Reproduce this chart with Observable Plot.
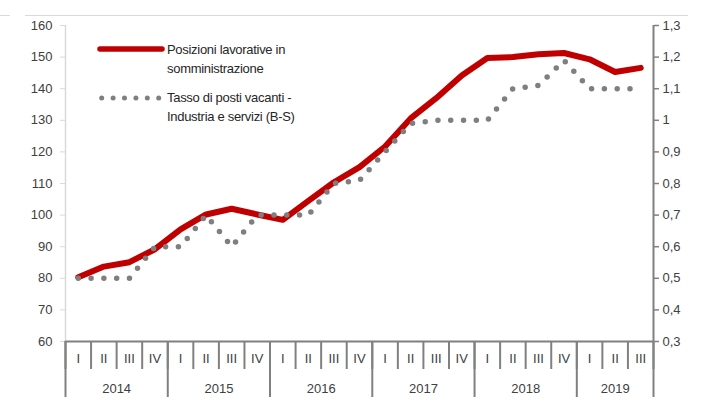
<!DOCTYPE html>
<html><head><meta charset="utf-8">
<script src="https://cdn.jsdelivr.net/npm/d3@7"></script>
<script src="https://cdn.jsdelivr.net/npm/@observablehq/plot@0.6"></script>
<style>
body{margin:0;background:#fff;font-family:"Liberation Sans",Arial,sans-serif;}
#wrap{position:relative;width:702px;height:402px;overflow:hidden;}
.frame{position:absolute;height:1px;background:#d9d9d9;top:15px;}
.legtext{position:absolute;font-size:13px;line-height:19px;color:#262626;letter-spacing:-0.3px;white-space:nowrap;}
.legsym{position:absolute;}
</style></head><body><div id="wrap"></div>
<script>
const quarterLabels = ["I","II","III","IV","I","II","III","IV","I","II","III","IV","I","II","III","IV","I","II","III","IV","I","II","III"];
const years = ["2014","2015","2016","2017","2018","2019"];
const positions = [80.3,83.7,85.1,89.2,95.5,100.2,102.0,100.2,98.5,104.5,110.4,115.2,121.7,130.6,137.0,144.2,149.7,150.0,150.9,151.3,149.3,145.3,146.6];
const vacancy = [0.5,0.5,0.5,0.6,0.6,0.7,0.6,0.7,0.7,0.7,0.8,0.81,0.9,0.99,1.0,1.0,1.0,1.1,1.11,1.19,1.1,1.1,1.1];
const leftTicks = [60,70,80,90,100,110,120,130,140,150,160];
const seriesNames = ["Posizioni lavorative in somministrazione","Tasso di posti vacanti - Industria e servizi (B-S)"];

const n = quarterLabels.length;
const toLeft = v => 60 + (v - 0.3) * 100;
const data = positions.map((p, i) => ({i: i + 0.5, p, v: toLeft(vacancy[i])}));
const quarterCenters = quarterLabels.map((q, i) => i + 0.5);
const boundaries = d3.range(0, n + 1);
const yearBounds = years.map((y, k) => k * 4).concat([n]);
const yearCenters = years.map((y, k) => (k * 4 + Math.min(k * 4 + 4, n)) / 2);
const fmtRight = d => String(Math.round((0.3 + (d - 60) / 100) * 10) / 10).replace(".", ",");

const chart = Plot.plot({
  width: 702, height: 402,
  marginLeft: 65, marginRight: 49, marginTop: 25, marginBottom: 61,
  x: {domain: [0, n], axis: null, label: null},
  y: {domain: [60, 160], axis: null, label: null},
  style: {fontFamily: "Liberation Sans, Arial, sans-serif", fontSize: "13px", background: "#fff", overflow: "visible"},
  marks: [
    Plot.ruleX([0], {y1: 60, y2: 160, stroke: "#d9d9d9", strokeWidth: 1.5}),
    Plot.axisY({ticks: leftTicks, anchor: "left", tickSize: 5, tickPadding: 8, stroke: "#d9d9d9", fill: "#404040", tickFormat: d => String(d)}),
    Plot.ruleX([n], {y1: 60, y2: 160, stroke: "#808080", strokeWidth: 2}),
    Plot.axisY({ticks: leftTicks, anchor: "right", tickSize: 5, tickPadding: 4, stroke: "#808080", strokeWidth: 1.5, fill: "#404040", tickFormat: fmtRight}),
    Plot.axisX({ticks: boundaries, anchor: "bottom", tickSize: 28, stroke: "#808080", strokeWidth: 2, tickFormat: () => ""}),
    Plot.axisX({ticks: yearBounds, anchor: "bottom", tickSize: 56, stroke: "#808080", strokeWidth: 2, tickFormat: () => ""}),
    Plot.axisX({ticks: quarterCenters, anchor: "bottom", tickSize: 0, tickPadding: 12, fill: "#404040", tickFormat: d => quarterLabels[Math.floor(d)]}),
    Plot.axisX({ticks: yearCenters, anchor: "bottom", tickSize: 0, tickPadding: 42, fill: "#404040", tickFormat: d => years[yearCenters.indexOf(d)]}),
    Plot.ruleY([60], {stroke: "#808080", strokeWidth: 2}),
    Plot.line(data, {x: "i", y: "p", stroke: "#c00000", strokeWidth: 6, strokeLinejoin: "round", strokeLinecap: "round"}),
    Plot.line(data, {x: "i", y: "v", stroke: "#7f7f7f", strokeWidth: 5.5, strokeDasharray: "0 12.8", strokeLinecap: "round", strokeLinejoin: "round"})
  ]
});
const wrap = document.getElementById("wrap");
wrap.appendChild(chart);

function add(html){ wrap.insertAdjacentHTML("beforeend", html); }
add('<div class="frame" style="left:25px;width:663px"></div>');
add('<div class="frame" style="left:0;width:10px"></div>');
// legend
add('<svg class="legsym" style="left:96px;top:44px" width="70" height="10"><line x1="4" y1="5" x2="66" y2="5" stroke="#c00000" stroke-width="5.5" stroke-linecap="round"/></svg>');
add('<svg class="legsym" style="left:96px;top:93px" width="70" height="10"><line x1="5.7" y1="5" x2="63" y2="5" stroke="#7f7f7f" stroke-width="5" stroke-dasharray="0 11.4" stroke-linecap="round"/></svg>');
add('<div class="legtext" style="left:167px;top:39.5px">Posizioni lavorative in<br>somministrazione</div>');
add('<div class="legtext" style="left:167px;top:88px">Tasso di posti vacanti -<br>Industria e servizi (B-S)</div>');
</script></body></html>
